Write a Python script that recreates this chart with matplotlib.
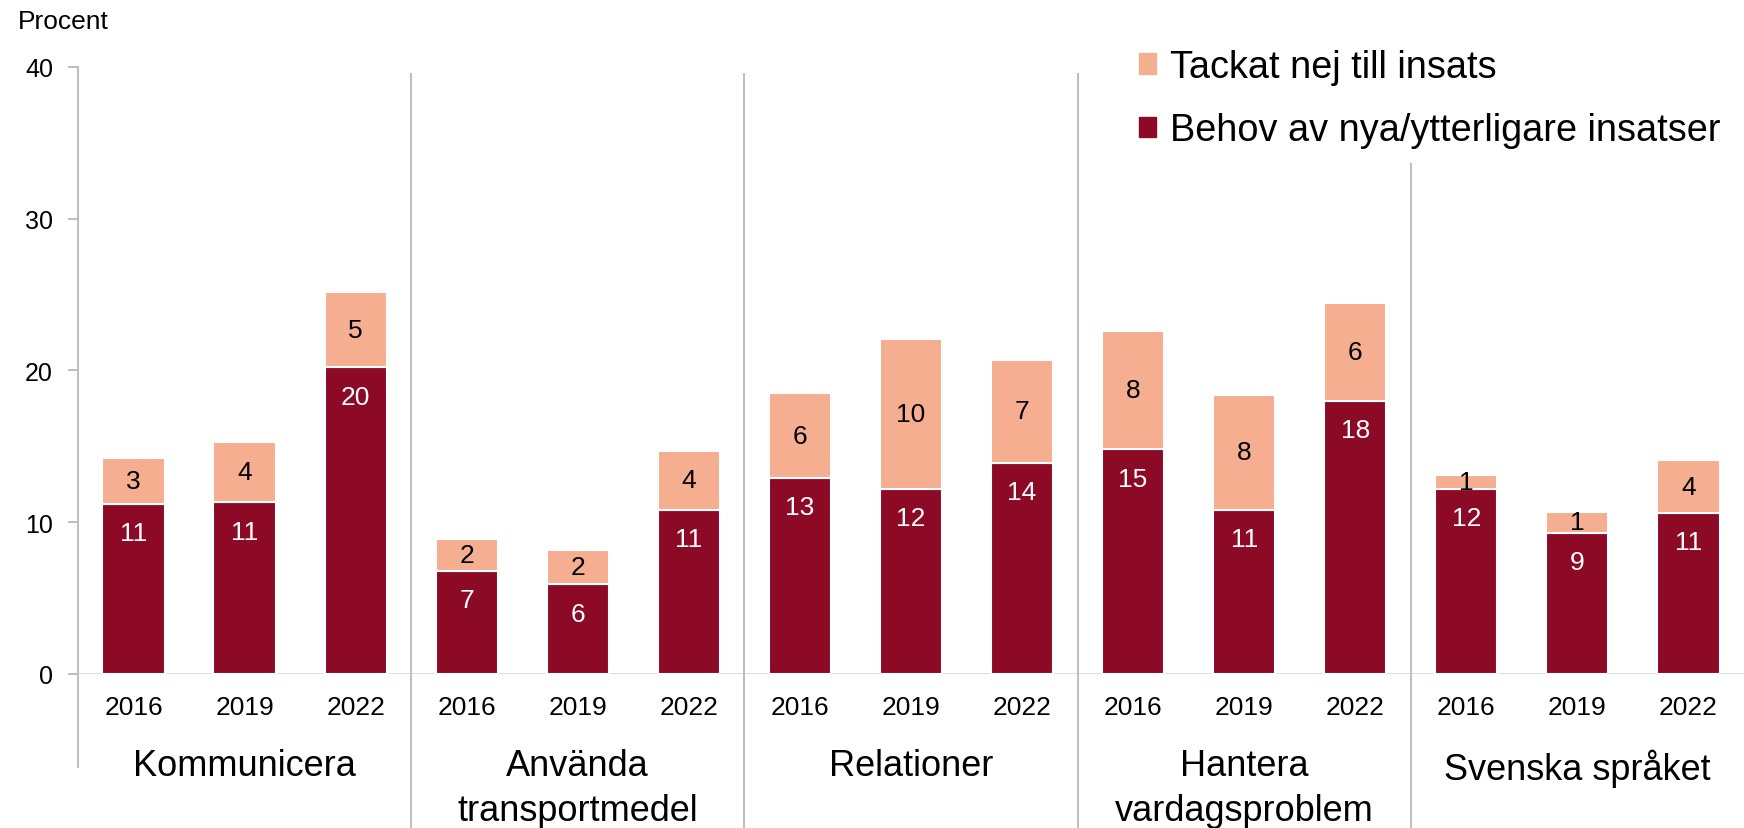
import matplotlib
matplotlib.use("Agg")
import matplotlib.pyplot as plt
from matplotlib.patches import Patch
from matplotlib.lines import Line2D
from matplotlib.transforms import blended_transform_factory

plt.rcParams['font.family'] = ['Liberation Sans', 'DejaVu Sans']

# data
groups = ["Kommunicera", "Använda\ntransportmedel", "Relationer",
          "Hantera\nvardagsproblem", "Svenska språket"]
years = ["2016", "2019", "2022"]
behov = [11.2, 11.3, 20.2,
         6.8, 5.9, 10.8,
         12.9, 12.2, 13.9,
         14.8, 10.8, 18.0,
         12.2, 9.3, 10.6]
tackat = [3.0, 4.0, 5.0,
          2.1, 2.3, 3.9,
          5.6, 9.9, 6.8,
          7.8, 7.6, 6.45,
          0.9, 1.4, 3.5]

DARK = "#8C0A26"
LIGHT = "#F6AE91"
GRID = "#BFBFBF"

fig = plt.figure(figsize=(17.44, 8.29), dpi=100)
ax = fig.add_axes([0.0447, 0.1858, 0.9553, 0.7322])

x = list(range(len(behov)))
b1 = ax.bar(x, behov, width=0.56, color=DARK, edgecolor="white", linewidth=1.5, zorder=3)
b2 = ax.bar(x, tackat, width=0.56, bottom=behov, color=LIGHT, edgecolor="white",
            linewidth=1.5, zorder=3)

for xi, v in zip(x, behov):
    ax.annotate("%.0f" % v, (xi, v), xytext=(0, -21), textcoords="offset points",
                ha="center", va="center", color="white", fontsize=19, zorder=4)
for xi, v, b in zip(x, tackat, behov):
    ax.text(xi, b + v / 2, "%.0f" % v, ha="center", va="center",
            color="black", fontsize=19, zorder=4)

ax.set_xlim(-0.5, len(behov) - 0.5)
ax.set_ylim(0, 40)
ax.set_yticks([0, 10, 20, 30, 40])
ax.tick_params(axis="y", length=7, width=1.5, color=GRID, pad=11, labelsize=18)
ax.set_xticks(x)
ax.set_xticklabels(years * len(groups))
ax.tick_params(axis="x", length=0, pad=15, labelsize=19)
for s in ["top", "right", "bottom", "left"]:
    ax.spines[s].set_visible(False)

ax.axhline(0, color="#D9D9D9", lw=2, zorder=2)

# vertical lines between groups, running down through the labels
tr = blended_transform_factory(ax.transData, fig.transFigure)
fig.add_artist(Line2D([-0.5, -0.5], [0.074, 0.918], transform=tr, color=GRID, lw=1.5))
tops = [0.91, 0.91, 0.91, 0.801]
for i, top in enumerate(tops):
    sx = 3 * (i + 1) - 0.5
    fig.add_artist(Line2D([sx, sx], [0.0, top], transform=tr, color=GRID, lw=1.5))

for i, g in enumerate(groups):
    ax.text(3 * i + 1, 0.096, g, transform=tr, ha="center", va="top",
            fontsize=26, linespacing=1.37)

fig.text(0.0103, 0.974, "Procent", fontsize=19, va="center", ha="left")

handles = [Patch(color=LIGHT), Patch(color=DARK)]
ax.legend(handles, ["Tackat nej till insats", "Behov av nya/ytterligare insatser"],
          loc="upper left", bbox_to_anchor=(0.6445, 0.958), bbox_transform=fig.transFigure,
          frameon=False, fontsize=27.3, handlelength=0.45, handleheight=0.45,
          handletextpad=0.35, labelspacing=0.72, borderaxespad=0)

fig.savefig("out.png", dpi=100)
